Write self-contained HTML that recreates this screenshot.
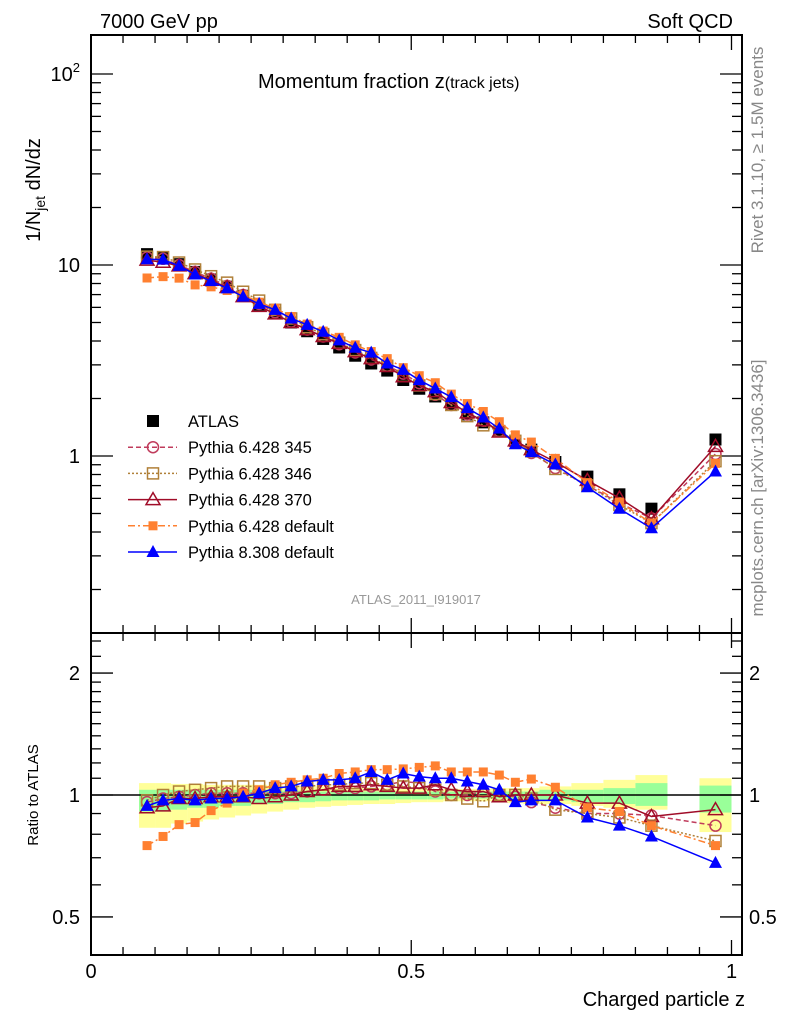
<!DOCTYPE html>
<html><head><meta charset="utf-8"><style>
body{margin:0;background:#fff;}
svg text{font-family:"Liberation Sans",sans-serif;}
</style></head><body>
<svg id="c" width="786" height="1024" xmlns="http://www.w3.org/2000/svg">
<text x="100" y="28" font-size="20">7000 GeV pp</text>
<text x="733" y="28" font-size="20" text-anchor="end">Soft QCD</text>
<text x="258" y="88" font-size="20">Momentum fraction z<tspan font-size="16">(track jets)</tspan></text>
<text transform="translate(40,190) rotate(-90)" font-size="20" text-anchor="middle">1/N<tspan font-size="14" dy="5">jet</tspan><tspan dy="-5"> dN/dz</tspan></text>
<text transform="translate(38,795) rotate(-90)" font-size="15" text-anchor="middle">Ratio to ATLAS</text>
<text x="745" y="1006" font-size="20" text-anchor="end">Charged particle z</text>
<text transform="translate(763,150) rotate(-90)" font-size="17" fill="#888" text-anchor="middle">Rivet 3.1.10, ≥ 1.5M events</text>
<text transform="translate(763,488) rotate(-90)" font-size="17" fill="#888" text-anchor="middle">mcplots.cern.ch [arXiv:1306.3436]</text>
<text x="416" y="604" font-size="13" fill="#999" text-anchor="middle">ATLAS_2011_I919017</text>
<g id="bands"></g><g id="axes"></g><g id="series"></g><g id="legend"></g>
</svg>
<script>
const zc=[0.0875,0.1125,0.1375,0.1625,0.1875,0.2125,0.2375,0.2625,0.2875,0.3125,0.3375,0.3625,0.3875,0.4125,0.4375,0.4625,0.4875,0.5125,0.5375,0.5625,0.5875,0.6125,0.6375,0.6625,0.6875,0.725,0.775,0.825,0.875,0.975];
const zw=[0.025,0.025,0.025,0.025,0.025,0.025,0.025,0.025,0.025,0.025,0.025,0.025,0.025,0.025,0.025,0.025,0.025,0.025,0.025,0.025,0.025,0.025,0.025,0.025,0.025,0.05,0.05,0.05,0.05,0.05];
const atlas=[11.4,11.0,10.1,9.2,8.4,7.7,6.9,6.2,5.6,5.0,4.5,4.1,3.7,3.35,3.05,2.8,2.5,2.25,2.05,1.85,1.65,1.5,1.35,1.2,1.08,0.93,0.78,0.63,0.53,1.22];
const r345=[0.96,0.98,0.99,1.0,1.01,1.01,1.01,1.01,1.01,1.01,1.02,1.03,1.04,1.04,1.05,1.06,1.08,1.07,1.02,1.0,1.0,1.02,1.0,0.99,0.96,0.93,0.9,0.9,0.89,0.84];
const r346=[0.97,1.0,1.02,1.03,1.04,1.05,1.05,1.05,1.04,1.05,1.05,1.06,1.06,1.07,1.07,1.06,1.05,1.04,1.03,1.0,0.98,0.965,1.0,1.0,0.98,0.92,0.9,0.88,0.84,0.77];
const r370=[0.93,0.94,0.98,0.98,0.99,0.99,0.99,0.98,0.99,1.0,1.02,1.03,1.05,1.05,1.06,1.05,1.04,1.04,1.06,1.03,1.02,1.02,0.99,1.0,1.0,1.0,0.955,0.955,0.885,0.92];
const rdef6=[0.75,0.79,0.845,0.855,0.915,0.955,1.01,1.03,1.06,1.075,1.09,1.1,1.13,1.14,1.155,1.155,1.16,1.17,1.18,1.14,1.14,1.14,1.12,1.075,1.095,1.045,0.93,0.91,0.84,0.75];
const rpy8=[0.94,0.97,0.98,0.97,0.98,0.98,0.99,1.01,1.04,1.05,1.08,1.09,1.09,1.1,1.14,1.09,1.13,1.11,1.1,1.1,1.08,1.06,1.03,0.96,0.97,0.97,0.88,0.84,0.79,0.68];
const yHi=[1.07,1.07,1.065,1.065,1.06,1.06,1.06,1.06,1.055,1.05,1.05,1.05,1.045,1.045,1.04,1.04,1.035,1.035,1.035,1.035,1.035,1.035,1.04,1.04,1.04,1.05,1.07,1.09,1.12,1.1];
const yLo=[0.83,0.83,0.85,0.86,0.87,0.88,0.89,0.9,0.91,0.92,0.93,0.935,0.94,0.945,0.95,0.95,0.955,0.96,0.96,0.965,0.965,0.965,0.96,0.955,0.95,0.95,0.94,0.93,0.92,0.81];
const gHi=[1.03,1.03,1.03,1.03,1.03,1.03,1.03,1.03,1.025,1.025,1.025,1.02,1.02,1.02,1.02,1.02,1.02,1.02,1.02,1.02,1.02,1.02,1.02,1.02,1.02,1.03,1.03,1.04,1.07,1.055];
const gLo=[0.91,0.91,0.92,0.93,0.93,0.94,0.94,0.95,0.95,0.96,0.96,0.965,0.97,0.97,0.97,0.975,0.975,0.975,0.975,0.98,0.98,0.98,0.98,0.975,0.975,0.97,0.96,0.95,0.94,0.905];
const legendLabels=["ATLAS","Pythia 6.428 345","Pythia 6.428 346","Pythia 6.428 370","Pythia 6.428 default","Pythia 8.308 default"];

const NS="http://www.w3.org/2000/svg";
const L=91,R=742,T=35,M=633,B=955;
const X=z=>91+z*640.5;
const Y=v=>456-191*Math.log10(v);
const RY=r=>795-405*Math.log10(r);
function mk(tag,attrs,parent){const e=document.createElementNS(NS,tag);for(const k in attrs)e.setAttribute(k,attrs[k]);parent.appendChild(e);return e;}
const gB=document.getElementById('bands'),gA=document.getElementById('axes'),gS=document.getElementById('series'),gL=document.getElementById('legend');

zc.forEach((z,i)=>{
  const x0=X(z-zw[i]/2),x1=X(z+zw[i]/2);
  let e=mk('rect',{x:x0,y:RY(yHi[i]),width:x1-x0,height:RY(yLo[i])-RY(yHi[i]),fill:'#ffff99'},gB);
  
  
  e=mk('rect',{x:x0,y:RY(gHi[i]),width:x1-x0,height:RY(gLo[i])-RY(gHi[i]),fill:'#99ff99'},gB);
  
  
});
let f=mk('rect',{x:L,y:T,width:R-L,height:M-T,fill:'none',stroke:'#000','stroke-width':2},gA);


f=mk('rect',{x:L,y:M,width:R-L,height:B-M,fill:'none',stroke:'#000','stroke-width':2},gA);


let one=mk('line',{x1:L,x2:R,y1:RY(1),y2:RY(1),stroke:'#000','stroke-width':1.5},gA);


function tk(x1,y1,x2,y2){mk('line',{x1,y1,x2,y2,stroke:'#000','stroke-width':1.3},gA);}
for(let k=0;k<=21;k++){const z=k*0.05,x=X(z);if(x>R)break;const len=(k%10==0)?15:8;
  tk(x,T,x,T+len);tk(x,M,x,M-len);tk(x,M,x,M+len);tk(x,B,x,B-len);}
[[0,"0"],[0.5,"0.5"],[1,"1"]].forEach(([z,s])=>{const t=mk('text',{x:X(z),y:978,'font-size':20,'text-anchor':'middle'},gA);t.textContent=s;
  
  });
for(let d=-1;d<=2;d++)for(let m=1;m<10;m++){const v=m*Math.pow(10,d),y=Y(v);if(y<T||y>M)continue;const len=m==1?22:10;tk(L,y,L+len,y);tk(R,y,R-len,y);}
[[1,"1"],[10,"10"]].forEach(([v,s])=>{const t=mk('text',{x:80,y:Y(v)+7,'font-size':20,'text-anchor':'end'},gA);t.textContent=s;
  
  });
{const t=mk('text',{x:80,y:Y(100)+7,'font-size':20,'text-anchor':'end'},gA);t.innerHTML='10<tspan font-size="13" dy="-9">2</tspan>';
 
 }
[0.5,0.6,0.7,0.8,0.9,1,1.1,1.2,1.3,1.4,1.5,1.6,1.7,1.8,1.9,2,2.2,2.4,2.6].forEach(v=>{const y=RY(v);if(y<M||y>B)return;const len=(v==0.5||v==1||v==2)?22:10;tk(L,y,L+len,y);tk(R,y,R-len,y);});
[[0.5,"0.5"],[1,"1"],[2,"2"]].forEach(([v,s])=>{
  let t=mk('text',{x:80,y:RY(v)+7,'font-size':20,'text-anchor':'end'},gA);t.textContent=s;
  
  
  t=mk('text',{x:749,y:RY(v)+7,'font-size':20},gA);t.textContent=s;
  
  });

function marker(kind,color,x,y,parent){
  if(kind=='sq')return mk('rect',{x:x-6,y:y-6,width:12,height:12,fill:color},parent);
  if(kind=='sqs')return mk('rect',{x:x-4.5,y:y-4.5,width:9,height:9,fill:color},parent);
  if(kind=='osq')return mk('rect',{x:x-5.5,y:y-5.5,width:11,height:11,fill:'none',stroke:color,'stroke-width':1.5},parent);
  if(kind=='oc')return mk('circle',{cx:x,cy:y,r:5.5,fill:'none',stroke:color,'stroke-width':1.5},parent);
  if(kind=='otri')return mk('polygon',{points:`${x},${y-7} ${x-7},${y+5} ${x+7},${y+5}`,fill:'none',stroke:color,'stroke-width':1.5},parent);
  if(kind=='tri')return mk('polygon',{points:`${x},${y-7} ${x-6.5},${y+5} ${x+6.5},${y+5}`,fill:color},parent);
}
const series=[
 {name:'pythia6-345',r:r345,color:'#c03c5c',dash:'5,3',m:'oc'},
 {name:'pythia6-346',r:r346,color:'#b08038',dash:'2,2',m:'osq'},
 {name:'pythia6-370',r:r370,color:'#a00c28',dash:'',m:'otri'},
 {name:'pythia6-default',r:rdef6,color:'#ff8030',dash:'7,3,2,3',m:'sqs'},
 {name:'pythia8-default',r:rpy8,color:'#0000ff',dash:'',m:'tri'}];
zc.forEach((z,i)=>{const e=marker('sq','#000',X(z),Y(atlas[i]),gS);
  
  });
series.forEach(s=>{
  const g=mk('g',{},gS);
  
  
  const pm=zc.map((z,i)=>X(z)+','+Y(atlas[i]*s.r[i])).join(' ');
  const pr=zc.map((z,i)=>X(z)+','+RY(s.r[i])).join(' ');
  mk('polyline',{points:pm,fill:'none',stroke:s.color,'stroke-width':1.5,'stroke-dasharray':s.dash},g);
  mk('polyline',{points:pr,fill:'none',stroke:s.color,'stroke-width':1.5,'stroke-dasharray':s.dash},g);
  zc.forEach((z,i)=>{
    let e=marker(s.m,s.color,X(z),Y(atlas[i]*s.r[i]),g);
    
    
    e=marker(s.m,s.color,X(z),RY(s.r[i]),g);
    
    
  });
});

const lk=[null,...series];
legendLabels.forEach((lab,i)=>{
  const y=421+i*26.2;
  const g=mk('g',{},gL);
  
  
  if(i==0){marker('sq','#000',153,y,g);}
  else{const s=lk[i];mk('line',{x1:128,x2:177,y1:y,y2:y,stroke:s.color,'stroke-width':1.5,'stroke-dasharray':s.dash},g);marker(s.m,s.color,153,y,g);}
  const t=mk('text',{x:188,y:y+6,'font-size':16.5},g);t.textContent=lab;
});
</script>
</body></html>
